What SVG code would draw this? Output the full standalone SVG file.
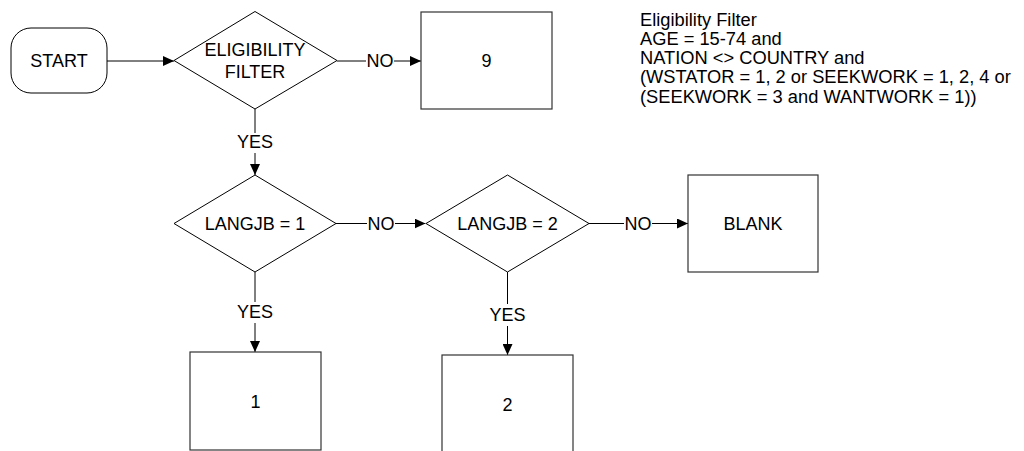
<svg xmlns="http://www.w3.org/2000/svg" width="1024" height="451" viewBox="0 0 1024 451">
  <style>
    .shape { fill: #fff; stroke: #000; stroke-width: 1; }
    .box { fill: #fff; stroke: #333; stroke-width: 1.2; }
    .lbl { font-family: "Liberation Sans", Arial, sans-serif; font-size: 18px; fill: #000; text-anchor: middle; }
    .note { font-family: "Liberation Sans", Arial, sans-serif; font-size: 18.3px; fill: #000; }
    .conn { fill: none; stroke: #000; stroke-width: 1; }
  </style>
  <defs>
    <marker id="arrow" viewBox="0 0 11 10" refX="11" refY="5" markerWidth="11" markerHeight="10" markerUnits="userSpaceOnUse" orient="auto">
      <path d="M0,0 L11,5 L0,10 z" fill="#000"/>
    </marker>
  </defs>
  <rect width="1024" height="451" fill="#fff"/>

  <g id="connectors">
    <path class="conn" d="M107,61 H174" marker-end="url(#arrow)"/>
    <path class="conn" d="M337,61 H366"/>
    <path class="conn" d="M394,61 H421" marker-end="url(#arrow)"/>
    <text class="lbl" x="380" y="67">NO</text>
    <path class="conn" d="M255,109 V133"/>
    <path class="conn" d="M255,153 V175" marker-end="url(#arrow)"/>
    <text class="lbl" x="255" y="148">YES</text>
    <path class="conn" d="M336,223.5 H367"/>
    <path class="conn" d="M395,223.5 H425.5" marker-end="url(#arrow)"/>
    <text class="lbl" x="381" y="230">NO</text>
    <path class="conn" d="M589,223.5 H624"/>
    <path class="conn" d="M652,223.5 H688" marker-end="url(#arrow)"/>
    <text class="lbl" x="638" y="230">NO</text>
    <path class="conn" d="M255,272 V302"/>
    <path class="conn" d="M255,323 V352" marker-end="url(#arrow)"/>
    <text class="lbl" x="255" y="318">YES</text>
    <path class="conn" d="M507.5,272 V304"/>
    <path class="conn" d="M507.5,326 V355" marker-end="url(#arrow)"/>
    <text class="lbl" x="507.5" y="320.5">YES</text>
  </g>

  <g id="start">
    <rect class="shape" x="11" y="28" width="96" height="65" rx="20" ry="20"/>
    <text class="lbl" x="59" y="67">START</text>
  </g>

  <g id="eligibility">
    <polygon class="shape" points="255,11.5 337,60.5 255,109 174,60.5"/>
    <text class="lbl" x="255" y="55.5">ELIGIBILITY</text>
    <text class="lbl" x="255" y="77.5">FILTER</text>
  </g>

  <g id="box9">
    <rect class="box" x="421" y="12" width="131" height="97"/>
    <text class="lbl" x="486.5" y="67">9</text>
  </g>

  <g id="note">
    <text class="note" x="640" y="25.5">Eligibility Filter</text>
    <text class="note" x="640" y="44.8">AGE = 15-74 and</text>
    <text class="note" x="640" y="64">NATION &lt;&gt; COUNTRY and</text>
    <text class="note" x="640" y="83.3">(WSTATOR = 1, 2 or SEEKWORK = 1, 2, 4 or</text>
    <text class="note" x="640" y="102.5">(SEEKWORK = 3 and WANTWORK = 1))</text>
  </g>

  <g id="langjb1">
    <polygon class="shape" points="255,175 336,223.5 255,272 174,223.5"/>
    <text class="lbl" x="255" y="230">LANGJB = 1</text>
  </g>

  <g id="langjb2">
    <polygon class="shape" points="507.5,175 589,223.5 507.5,272 426,223.5"/>
    <text class="lbl" x="507.5" y="230">LANGJB = 2</text>
  </g>

  <g id="blank">
    <rect class="box" x="688" y="175" width="130" height="97"/>
    <text class="lbl" x="753" y="230">BLANK</text>
  </g>

  <g id="box1">
    <rect class="box" x="190" y="352" width="131" height="98"/>
    <text class="lbl" x="255.5" y="407.5">1</text>
  </g>

  <g id="box2">
    <rect class="box" x="442" y="355" width="131" height="100"/>
    <text class="lbl" x="507.5" y="410.5">2</text>
  </g>
</svg>
